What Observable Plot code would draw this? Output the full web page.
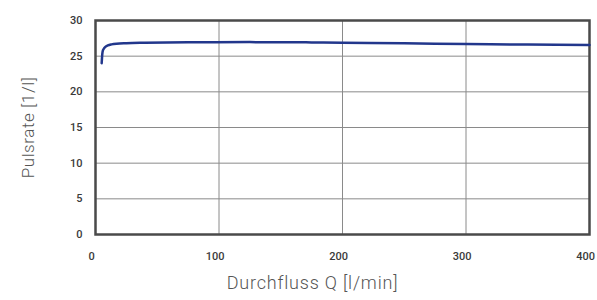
<!DOCTYPE html>
<html>
<head>
<meta charset="utf-8">
<script src="https://cdn.jsdelivr.net/npm/d3@7"></script>
<script src="https://cdn.jsdelivr.net/npm/@observablehq/plot@0.6"></script>
<style>
  html, body { margin: 0; padding: 0; background: #fff; }
  #chart { width: 597px; height: 300px; }
</style>
</head>
<body>
<div id="chart"></div>
<script>
const flow = [5, 5.5, 6, 7, 8, 10, 13, 17, 25, 40, 75, 125, 175, 200, 250, 300, 350, 400];
const pulseRate = [24.0, 25.3, 25.8, 26.1, 26.3, 26.5, 26.65, 26.75, 26.82, 26.88, 26.95, 26.97, 26.93, 26.88, 26.8, 26.7, 26.62, 26.55];
const xTicks = [0, 100, 200, 300, 400];
const yTicks = [0, 5, 10, 15, 20, 25, 30];

const data = flow.map((q, i) => ({q, r: pulseRate[i]}));

const chart = Plot.plot({
  width: 597,
  height: 300,
  marginLeft: 95,
  marginRight: 8,
  marginTop: 20,
  marginBottom: 66,
  style: {fontFamily: "Roboto, sans-serif", background: "#fff", overflow: "visible"},
  x: {domain: [0, 400]},
  y: {domain: [0, 30]},
  marks: [
    Plot.gridX(xTicks, {stroke: "#8a8a8a", strokeOpacity: 1, strokeWidth: 1}),
    Plot.gridY(yTicks, {stroke: "#8a8a8a", strokeOpacity: 1, strokeWidth: 1}),
    Plot.axisX({ticks: xTicks, tickSize: 0, tickPadding: 18, fontSize: 11, fontWeight: 500, fill: "#3a3a3a", dx: -4,
      label: "Durchfluss Q [l/min]", labelAnchor: "center", labelArrow: "none", labelOffset: 54}),
    Plot.axisY({ticks: yTicks, tickSize: 0, tickPadding: 13, fontSize: 11, fontWeight: 500, fill: "#3a3a3a",
      label: "Pulsrate [1/l]", labelAnchor: "center", labelArrow: "none", labelOffset: 74}),
    Plot.frame({stroke: "#4a4a4a", strokeWidth: 2.5}),
    Plot.line(data, {x: "q", y: "r", stroke: "#22378c", strokeWidth: 2.5, curve: "monotone-x"})
  ]
});

chart.querySelectorAll("g[aria-label='x-axis label'] text").forEach(t => {
  t.setAttribute("font-size", "18");
  t.setAttribute("font-weight", "300");
  t.setAttribute("letter-spacing", "0.8");
  t.setAttribute("fill", "#555");
  t.setAttribute("dx", "-30");
});
chart.querySelectorAll("g[aria-label='y-axis label'] text").forEach(t => {
  t.setAttribute("font-size", "17");
  t.setAttribute("font-weight", "300");
  t.setAttribute("letter-spacing", "0.6");
  t.setAttribute("fill", "#555");
});
document.getElementById("chart").appendChild(chart);
</script>
</body>
</html>
